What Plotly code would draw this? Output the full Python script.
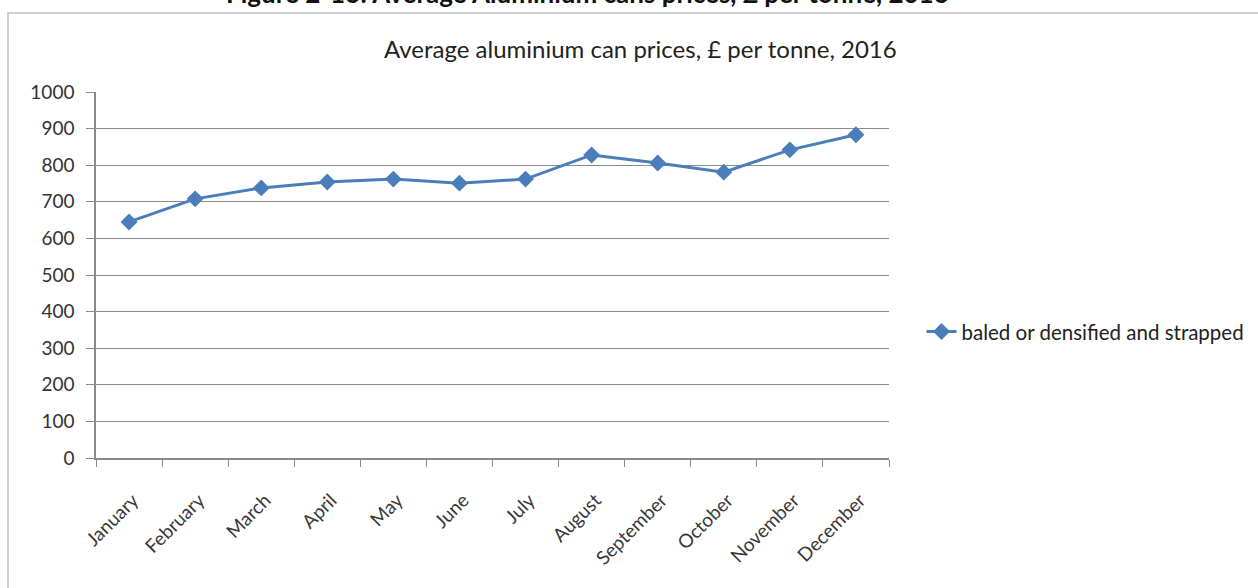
import plotly.graph_objects as go

months = ["January", "February", "March", "April", "May", "June", "July",
          "August", "September", "October", "November", "December"]
prices = [645, 708, 738, 754, 762, 751, 762, 828, 806, 781, 842, 883]
series_name = "baled or densified and strapped"
y_ticks = [0, 100, 200, 300, 400, 500, 600, 700, 800, 900, 1000]

FONT = "Lato, 'Open Sans', sans-serif"
BLUE = "#4A7EBB"
GRID = "#8A8A8A"

fig = go.Figure()
fig.add_trace(go.Scatter(
    x=months, y=prices, name=series_name, mode="lines+markers",
    line=dict(color=BLUE, width=3),
    marker=dict(symbol="diamond", size=13, color=BLUE),
))

fig.update_layout(
    width=1258, height=588,
    margin=dict(l=96, r=369, t=92, b=130, autoexpand=False),
    paper_bgcolor="white", plot_bgcolor="white",
    font=dict(family=FONT, color="#333333", size=16),
    showlegend=True,
    legend=dict(x=1.041, y=0.345, xanchor="left", yanchor="middle",
                font=dict(size=20.5, color="#222222"), bgcolor="rgba(0,0,0,0)"),
    xaxis=dict(
        type="category", range=[-0.5, 11.5], tickson="boundaries",
        ticks="outside", ticklen=7, tickcolor=GRID, automargin=False,
        showline=True, linecolor=GRID, linewidth=1.5,
        tickangle=-45, showgrid=False, ticklabelstandoff=22, ticklabelshift=4,
        tickfont=dict(size=19, color="#383838"),
    ),
    yaxis=dict(
        range=[0, 1000], tickvals=y_ticks, ticks="outside", ticklen=8,
        tickcolor=GRID, showline=True, linecolor=GRID, linewidth=1.5,
        showgrid=True, gridcolor=GRID, gridwidth=1.2, zeroline=False,
        ticklabelstandoff=8, automargin=False,
        tickfont=dict(size=19, color="#333333"),
    ),
)

# outer chart frame
fig.add_shape(type="rect", xref="paper", yref="paper",
              x0=-88 / 793, x1=1360 / 793, y0=-1.0, y1=1 + 79 / 366,
              line=dict(color="#D0D0D0", width=2), fillcolor="rgba(0,0,0,0)",
              layer="below")

# document figure caption, partly above the page edge
fig.add_annotation(
    text="<b>Figure 2-16: Average Aluminium cans prices, £ per tonne, 2016</b>",
    xref="paper", yref="paper", x=(587 - 96) / 793, y=1 + 81 / 366,
    showarrow=False, xanchor="center", yanchor="bottom",
    font=dict(family=FONT, size=26, color="#111111"),
)

# chart title
fig.add_annotation(
    text="Average aluminium can prices, £ per tonne, 2016",
    xref="paper", yref="paper", x=(640 - 96) / 793, y=1 + 44 / 366,
    showarrow=False, xanchor="center", yanchor="middle",
    font=dict(family=FONT, size=24, color="#222222"),
)

fig.write_html("out.html")
